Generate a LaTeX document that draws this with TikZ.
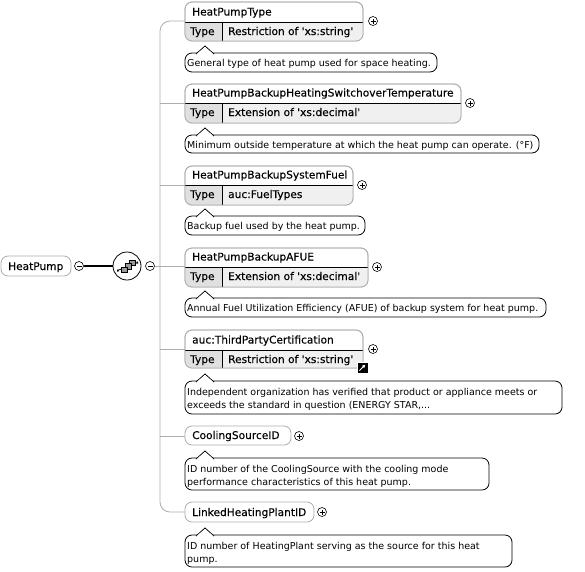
\documentclass[tikz,border=0pt]{standalone}
\usepackage{fontspec}
\setmainfont{DejaVu Sans}
\newfontfamily\titlefont{DejaVu Sans}[FakeBold=0.25]
\usetikzlibrary{calc,arrows.meta}
\definecolor{edgegray}{gray}{0.68}
\definecolor{cellgray}{gray}{0.88}
\tikzset{
  x=1pt,y=-1pt,
  conn/.style={draw=edgegray,line width=0.8pt},
  boxshape/.style={draw=edgegray,line width=0.8pt,rounded corners=7pt,inner sep=0pt,outer sep=0pt,fill=white},
  txt/.style={inner sep=0pt,anchor=base west,font=\titlefont\fontsize{10.6}{12}\selectfont,text=black},
  notetxt/.style={inner sep=0pt,anchor=base west,font=\fontsize{9.5}{11}\selectfont,text=black},
  notebox/.style={draw=black,line width=0.8pt,rounded corners=7pt,inner sep=0pt,outer sep=0pt,fill=white},
  pm/.style={circle,draw=black,line width=0.6pt,fill=white,minimum size=9pt,inner sep=0pt,outer sep=0pt},
}
% name, x1,y1,x2,y2,ydivider, title, type
\newcommand{\elembox}[8]{%
  \node[boxshape,anchor=north west,minimum width=#4pt-#2pt,minimum height=#5pt-#3pt] (#1) at (#2,#3) {};
  \begin{scope}
    \clip[rounded corners=7pt] (#2,#3) rectangle (#4,#5);
    \fill[cellgray] (#2,#6) rectangle (222,#5);
    \fill[black!6] (222,#6) rectangle (#4,#5);
    \draw[black,line width=0.8pt] (#2,#6) -- (#4,#6);
    \draw[black,line width=0.6pt] (222,#6) -- (222,#5);
  \end{scope}
  \draw[edgegray,line width=0.8pt,rounded corners=7pt] (#2,#3) rectangle (#4,#5);
  \node[txt] at (192,#6-6.5) {#7};
  \node[txt] at (190,#6+13) {Type};
  \node[txt] at (228,#6+13) {#8};
}
\newcommand{\simplebox}[6]{%
  \node[boxshape,anchor=north west,minimum width=#4pt-#2pt,minimum height=#5pt-#3pt] (#1) at (#2,#3) {};
  \node[txt] at (192,#5-6) {#6};
}
\newcommand{\notetip}[1]{%
  \draw[black,line width=0.8pt,fill=white] (196,#1+1) -- (205,#1-7) -- (214,#1+1);
  \fill[white] (197.5,#1+0.4) -- (205,#1-6) -- (212.5,#1+0.4) -- cycle;
}
\newcommand{\noteone}[5]{%
  \node[notebox,anchor=north west,minimum width=#3pt-185pt,minimum height=#4pt-#2pt] (#1) at (185,#2) {};
  \notetip{#2}
  \node[notetxt] at (187,#2+13) {#5};
}
\newcommand{\notetwo}[6]{%
  \node[notebox,anchor=north west,minimum width=#3pt-185pt,minimum height=#4pt-#2pt] (#1) at (185,#2) {};
  \notetip{#2}
  \node[notetxt] at (187,#2+14) {#5};
  \node[notetxt] at (187,#2+27) {#6};
}
\newcommand{\plusat}[3]{%
  \node[pm] (#1) at (#2,#3) {};
  \draw[black,line width=0.5pt] (#2-2.5,#3) -- (#2+2.5,#3) (#2,#3-2.5) -- (#2,#3+2.5);
}
\newcommand{\minusat}[3]{%
  \node[pm] (#1) at (#2,#3) {};
  \draw[black,line width=0.5pt] (#2-2.5,#3) -- (#2+2.5,#3);
}
\begin{document}
\begin{tikzpicture}
\useasboundingbox (0,0) rectangle (585,571);
\fill[white] (0,0) rectangle (585,571);
\coordinate (trunk) at (160,266);
\coordinate (atop) at (160,21);
\coordinate (gbot) at (160,512);
\coordinate (bjoin) at (160,103);
\coordinate (cjoin) at (160,185);
\coordinate (ejoin) at (160,349);
\coordinate (fjoin) at (160,436);
% root
\node[boxshape,anchor=north west,minimum width=70pt,minimum height=20pt] (root) at (1,256) {};
\node[txt] at (8,270) {HeatPump};
\minusat{rootm}{79}{266}
\node[circle,draw=black,line width=0.8pt,fill=white,minimum size=28pt,inner sep=0pt,outer sep=0pt] (seq) at (127,266) {};
\minusat{seqm}{150}{266}
\draw[black,line width=1.6pt] (rootm) -- (seq);
% sequence icon
\draw[black,line width=0.8pt] (117.5,270.5) -- (137.5,262.5);
\fill[black] (117,269.5) rectangle (118.5,271.5) (136.5,261.5) rectangle (138,263.5);
\foreach \ix/\iy in {135/263,131/266.5,127/270}{\draw[black,line width=0.5pt,fill=black!40] (\ix,\iy-3) rectangle ++(-5.5,5.5);}
% trunk connectors
\draw[conn] (seqm) -- (185,266);
\draw[conn,rounded corners=10pt] (185,21) -- (atop) -- (gbot) -- (185,512);
\draw[conn] (bjoin) -- (185,103);
\draw[conn] (cjoin) -- (185,185);
\draw[conn] (ejoin) -- (185,349);
\draw[conn] (fjoin) -- (185,436);
% elements
\elembox{a}{185}{2}{363}{41}{22}{HeatPumpType}{Restriction of 'xs:string'}
\plusat{ap}{373}{21}
\noteone{an}{53}{437}{72}{General type of heat pump used for space heating.}
\elembox{b}{185}{84}{461}{123}{103}{HeatPumpBackupHeatingSwitchoverTemperature}{Extension of 'xs:decimal'}
\plusat{bp}{470}{103}
\noteone{bn}{135}{539}{153}{Minimum outside temperature at which the heat pump can operate. (°F)}
\elembox{c}{185}{166}{353}{205}{185}{HeatPumpBackupSystemFuel}{auc:FuelTypes}
\plusat{cp}{362}{185}
\noteone{cn}{216}{365}{235}{Backup fuel used by the heat pump.}
\elembox{d}{185}{248}{368}{287}{267}{HeatPumpBackupAFUE}{Extension of 'xs:decimal'}
\plusat{dp}{377}{267}
\noteone{dn}{298}{546}{317}{Annual Fuel Utilization Efficiency (AFUE) of backup system for heat pump.}
\elembox{e}{185}{330}{363}{368}{350}{auc:ThirdPartyCertification}{Restriction of 'xs:string'}
\plusat{ep}{373}{349}
\notetwo{en}{381}{562}{414}{Independent organization has verified that product or appliance meets or}{exceeds the standard in question (ENERGY STAR,...}
\simplebox{f}{185}{426}{291}{445}{CoolingSourceID}
\plusat{fp}{299}{436}
\notetwo{fn}{458}{489}{490}{ID number of the CoolingSource with the cooling mode}{performance characteristics of this heat pump.}
\simplebox{g}{185}{502}{314}{522}{LinkedHeatingPlantID}
\plusat{gp}{322}{512}
\notetwo{gn}{535}{512}{567}{ID number of HeatingPlant serving as the source for this heat}{pump.}
% jump icon
\node[draw=white,line width=0.5pt,fill=black,minimum size=11pt,inner sep=0pt,outer sep=0pt] (jump) at (362.5,367.5) {};
\draw[white,line width=1pt,-{Latex[length=3.5pt,width=3.5pt]}] (359.5,370.5) -- (365.5,364.5);
\end{tikzpicture}
\end{document}
